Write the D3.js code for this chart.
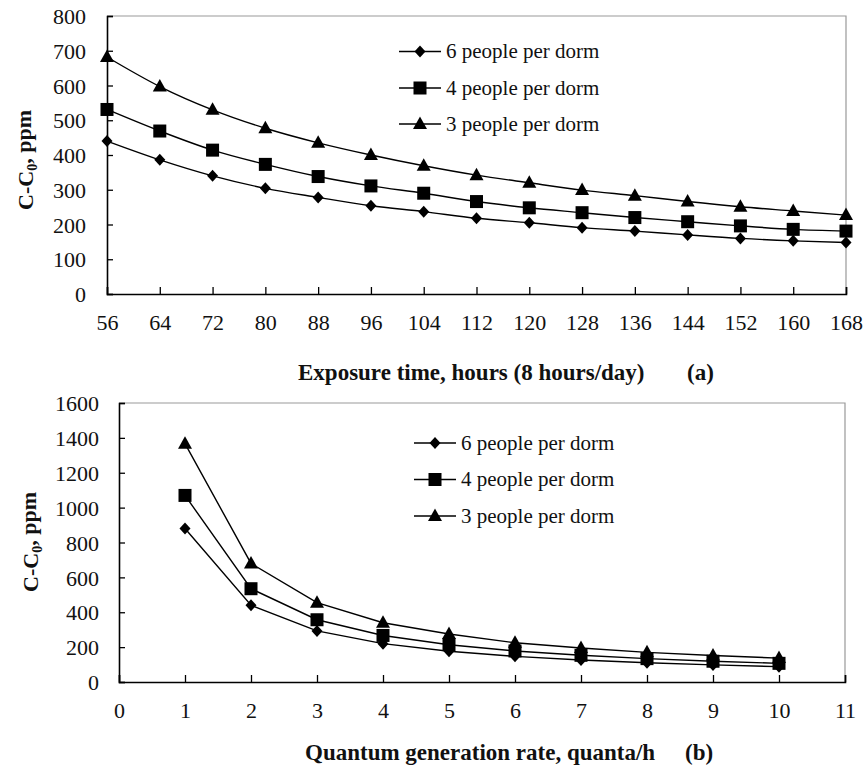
<!DOCTYPE html>
<html><head><meta charset="utf-8">
<script src="https://cdn.jsdelivr.net/npm/d3@7"></script>
<style>body{margin:0;background:#fff}svg{display:block}</style>
</head><body>
<script>
// ---- data ----
const seriesNames = ["6 people per dorm", "4 people per dorm", "3 people per dorm"];
const markerTypes = ["diamond", "square", "triangle"];

const hoursA = [56, 64, 72, 80, 88, 96, 104, 112, 120, 128, 136, 144, 152, 160, 168];
const sixA   = [440, 386, 340, 304, 278, 254, 237, 218, 205, 191, 181, 170, 160, 153, 148];
const fourA  = [531, 469, 414, 373, 338, 311, 290, 266, 248, 234, 220, 208, 196, 186, 181];
const threeA = [682, 597, 530, 477, 435, 400, 369, 342, 320, 299, 283, 266, 251, 239, 227];
const yTicksA = [0, 100, 200, 300, 400, 500, 600, 700, 800];

const rateB  = [1, 2, 3, 4, 5, 6, 7, 8, 9, 10];
const sixB   = [880, 440, 293, 220, 176, 147, 126, 110, 98, 88];
const fourB  = [1070, 535, 357, 267, 214, 178, 153, 134, 119, 107];
const threeB = [1367, 680, 455, 340, 275, 225, 195, 170, 152, 137];
const yTicksB = [0, 200, 400, 600, 800, 1000, 1200, 1400, 1600];
const xTicksB = [0, 1, 2, 3, 4, 5, 6, 7, 8, 9, 10, 11];

const FONT = "Liberation Serif";
const W = 866, H = 772;
const svg = d3.select("body").append("svg").attr("width", W).attr("height", H)
  .attr("font-family", FONT);

function txt(sel, size, bold) {
  return sel.attr("font-family", FONT).attr("font-size", size).attr("font-weight", bold ? "bold" : "normal").attr("fill", "#111");
}

function marker(g, type, x, y) {
  if (type === "diamond") {
    g.append("path").attr("d", `M${x},${y-6}L${x+5.5},${y}L${x},${y+6}L${x-5.5},${y}Z`).attr("fill", "#000");
  } else if (type === "square") {
    g.append("rect").attr("x", x-6.5).attr("y", y-6.5).attr("width", 13).attr("height", 13).attr("fill", "#000");
  } else {
    g.append("path").attr("d", `M${x},${y-7.5}L${x+7},${y+5}L${x-7},${y+5}Z`).attr("fill", "#000");
  }
}

function panel(cfg) {
  const g = svg.append("g");
  const x = cfg.x, y = cfg.y;
  const [x0, x1] = x.range(), [y0, y1] = y.range();
  g.append("path").attr("d", `M${x0},${y1}H${x1}V${y0}`).attr("fill", "none").attr("stroke", "#999").attr("stroke-width", 1.2);
  const ax = g.append("g").attr("transform", `translate(0,${y0})`)
    .call(d3.axisBottom(x).tickValues(cfg.xTicks).tickSize(-7).tickPadding(0).tickFormat(d3.format("d")));
  ax.attr("font-family", FONT).attr("font-size", 22);
  ax.select(".domain").attr("stroke", "#000").attr("stroke-width", 1.6);
  ax.selectAll(".tick line").attr("stroke", "#000").attr("stroke-width", 1.3);
  txt(ax.selectAll(".tick text").attr("y", cfg.xLabelY).attr("dy", 0), 22, false);
  const ay = g.append("g").attr("transform", `translate(${x0},0)`)
    .call(d3.axisLeft(y).tickValues(cfg.yTicks).tickSize(-6).tickPadding(0).tickFormat(d3.format("d")));
  ay.attr("font-family", FONT).attr("font-size", 22);
  ay.select(".domain").attr("stroke", "#000").attr("stroke-width", 1.6);
  ay.selectAll(".tick line").attr("stroke", "#000").attr("stroke-width", 1.3);
  txt(ay.selectAll(".tick text").attr("x", cfg.yLabelX).attr("dy", "0.35em"), 22, false);

  const line = d3.line().x((d, i) => x(cfg.xs[i])).y(d => y(d)).curve(cfg.curve);
  cfg.series.forEach(vals => {
    g.append("path").attr("d", line(vals)).attr("fill", "none").attr("stroke", "#000").attr("stroke-width", 1.4);
  });
  cfg.series.forEach((vals, si) => {
    vals.forEach((v, i) => marker(g, markerTypes[si], x(cfg.xs[i]), y(v)));
  });
  seriesNames.forEach((name, i) => {
    const ly = cfg.legY[i];
    g.append("line").attr("x1", cfg.legX - 21).attr("x2", cfg.legX + 21).attr("y1", ly).attr("y2", ly).attr("stroke", "#000").attr("stroke-width", 1.4);
    marker(g, markerTypes[i], cfg.legX, ly);
    txt(g.append("text").attr("x", cfg.legX + 26).attr("y", ly).attr("dy", "0.33em"), 21, false).text(name);
  });
  txt(g.append("text").attr("x", cfg.titleX).attr("y", cfg.titleY), 23, true).text(cfg.xTitle);
  txt(g.append("text").attr("x", cfg.tagX).attr("y", cfg.titleY), 23, true).text(cfg.tag);
  const yt = txt(g.append("text").attr("transform", `translate(${cfg.yTitleX},${cfg.yTitleY}) rotate(-90)`)
    .attr("text-anchor", "middle"), 22, true);
  yt.append("tspan").text("C-C");
  yt.append("tspan").attr("dy", "0.3em").attr("font-size", 14).text("0");
  yt.append("tspan").attr("dy", "-0.3em").text(", ppm");
}

panel({
  x: d3.scaleLinear().domain([56, 168]).range([107, 846]),
  y: d3.scaleLinear().domain([0, 800]).range([294, 16]),
  xTicks: hoursA, yTicks: yTicksA, xs: hoursA,
  series: [sixA, fourA, threeA], curve: d3.curveMonotoneX,
  xLabelY: 36, yLabelX: -21,
  legX: 420, legY: [51.5, 88, 124],
  xTitle: "Exposure time, hours (8 hours/day)", tag: "(a)", titleX: 298, tagX: 687, titleY: 380,
  yTitleX: 33, yTitleY: 160
});
panel({
  x: d3.scaleLinear().domain([0, 11]).range([119, 845]),
  y: d3.scaleLinear().domain([0, 1600]).range([682, 403]),
  xTicks: xTicksB, yTicks: yTicksB, xs: rateB,
  series: [sixB, fourB, threeB], curve: d3.curveLinear,
  xLabelY: 36, yLabelX: -20,
  legX: 435, legY: [443, 479.5, 516],
  xTitle: "Quantum generation rate, quanta/h", tag: "(b)", titleX: 305, tagX: 685, titleY: 760,
  yTitleX: 38, yTitleY: 542
});
</script>
</body></html>
